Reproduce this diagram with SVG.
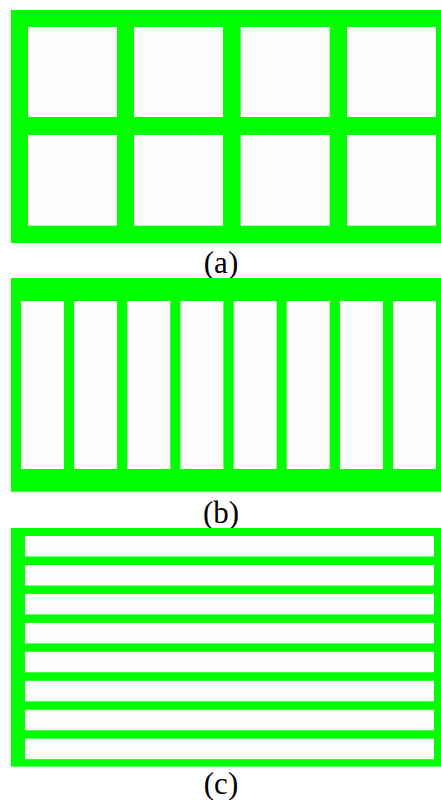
<svg xmlns="http://www.w3.org/2000/svg" width="441" height="800" viewBox="0 0 441 800">
<style>
.g{fill:#00ff00}
.w{fill:#fefefe}
.lbl{font-family:"Liberation Serif","Times New Roman",serif;font-size:31px;fill:#000;text-anchor:middle}
</style>
<rect x="0" y="0" width="441" height="800" fill="#fff"/>
<g id="panel-a">
<rect class="g" x="11" y="10" width="430" height="233"/>
<rect class="w" x="28" y="27" width="89" height="90"/>
<rect class="w" x="134" y="27" width="89" height="90"/>
<rect class="w" x="240.7" y="27" width="89" height="90"/>
<rect class="w" x="347" y="27" width="89" height="90"/>
<rect class="w" x="28" y="135" width="89" height="90.7"/>
<rect class="w" x="134" y="135" width="89" height="90.7"/>
<rect class="w" x="240.7" y="135" width="89" height="90.7"/>
<rect class="w" x="347" y="135" width="89" height="90.7"/>
<text class="lbl" x="221" y="273">(a)</text>
</g>
<g id="panel-b">
<rect class="g" x="11" y="278" width="430" height="213.7"/>
<rect class="w" x="21" y="301" width="43" height="168"/>
<rect class="w" x="74.1" y="301" width="43" height="168"/>
<rect class="w" x="127.3" y="301" width="43" height="168"/>
<rect class="w" x="180.4" y="301" width="43" height="168"/>
<rect class="w" x="233.6" y="301" width="43" height="168"/>
<rect class="w" x="286.7" y="301" width="43" height="168"/>
<rect class="w" x="339.9" y="301" width="43" height="168"/>
<rect class="w" x="393" y="301" width="43" height="168"/>
<text class="lbl" x="221" y="523">(b)</text>
</g>
<g id="panel-c">
<rect class="g" x="11" y="528" width="430" height="238.7"/>
<rect class="w" x="25" y="536" width="409" height="20.5"/>
<rect class="w" x="25" y="565" width="409" height="20.5"/>
<rect class="w" x="25" y="593.9" width="409" height="20.5"/>
<rect class="w" x="25" y="622.9" width="409" height="20.5"/>
<rect class="w" x="25" y="651.8" width="409" height="20.5"/>
<rect class="w" x="25" y="680.8" width="409" height="20.5"/>
<rect class="w" x="25" y="709.8" width="409" height="20.5"/>
<rect class="w" x="25" y="738.7" width="409" height="20.5"/>
<text class="lbl" x="221" y="794">(c)</text>
</g>
</svg>
